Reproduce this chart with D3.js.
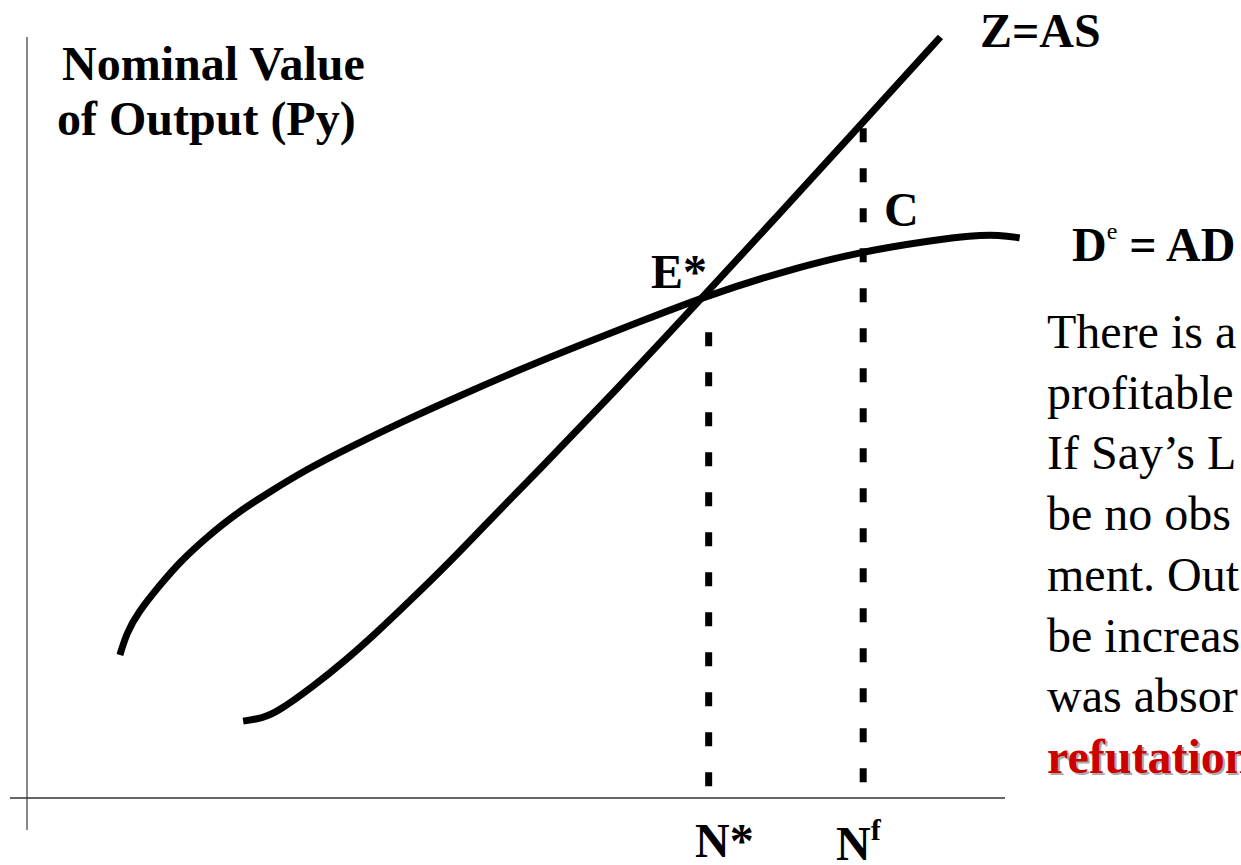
<!DOCTYPE html>
<html>
<head>
<meta charset="utf-8">
<script src="https://cdn.jsdelivr.net/npm/d3@7"></script>
<style>
  body { margin: 0; background: #fff; }
  svg { display: block; }
  text { font-family: "Liberation Serif", "Times New Roman", serif; }
</style>
</head>
<body>
<div id="chart"></div>
<script>
// aggregate demand (expected proceeds) curve
const adX = [9.5, 10.2, 11.3, 13.6, 15.6, 18.4, 21.5, 24.9, 28.6, 33.0, 38.1, 44.3, 50.4, 56.5, 62.7, 69.3, 77.0, 85.2, 92.8, 96.4, 99.5, 101.5];
const adY = [18.8, 21.7, 24.3, 28.0, 31.0, 34.3, 37.5, 40.3, 43.2, 46.1, 49.3, 52.9, 56.3, 59.5, 62.6, 65.9, 69.1, 71.8, 73.3, 73.9, 74.0, 73.6];

// aggregate supply curve
const asX = [22.1, 24.1, 25.6, 29.2, 32.5, 35.8, 38.9, 43.3, 47.3, 51.9, 60.0, 69.1, 85.5, 93.4];
const asY = [10.1, 10.5, 11.3, 14.6, 18.0, 21.8, 25.6, 31.1, 36.5, 42.5, 53.3, 65.8, 88.8, 100.0];

// employment levels marked on the x axis
const guideX = [69.7, 85.5];
const guideTop = [61.2, 88.0];

const width = 1241;
const height = 865;

const svg = d3.create('svg')
  .attr('width', width)
  .attr('height', height);

d3.select('#chart').append(() => svg.node());

const x = d3.scaleLinear().domain([0, 100]).range([27, 1005]);
const y = d3.scaleLinear().domain([0, 100]).range([798, 37]);

// axes
svg.append('line')
  .attr('x1', x(0)).attr('x2', x(0))
  .attr('y1', y(100)).attr('y2', 830)
  .attr('stroke', '#888').attr('stroke-width', 2);

svg.append('line')
  .attr('x1', 10).attr('x2', x(100))
  .attr('y1', y(0)).attr('y2', y(0))
  .attr('stroke', '#333').attr('stroke-width', 1.5);

// dotted guides
svg.selectAll('.guide')
  .data(guideX)
  .join('line')
  .attr('class', 'guide')
  .attr('x1', d => x(d)).attr('x2', d => x(d))
  .attr('y1', (d, i) => y(guideTop[i]))
  .attr('y2', y(0))
  .attr('stroke', '#000')
  .attr('stroke-width', 7)
  .attr('stroke-dasharray', '14,26');

const line = d3.line()
  .x(d => x(d[0]))
  .y(d => y(d[1]))
  .curve(d3.curveBasis);

svg.append('path')
  .datum(adX.map((v, i) => [v, adY[i]]))
  .attr('d', line)
  .attr('fill', 'none')
  .attr('stroke', '#000')
  .attr('stroke-width', 7);

svg.append('path')
  .datum(asX.map((v, i) => [v, asY[i]]))
  .attr('d', line)
  .attr('fill', 'none')
  .attr('stroke', '#000')
  .attr('stroke-width', 7);

// labels
const bold = (tx, ty, str) => svg.append('text')
  .attr('x', tx).attr('y', ty)
  .attr('font-size', 48)
  .attr('font-weight', 'bold')
  .text(str);

bold(62, 80, 'Nominal Value');
bold(57, 135, 'of Output (Py)');
bold(980, 47, 'Z=AS');
bold(651, 288, 'E*');
bold(884, 226, 'C');
bold(695, 857, 'N*');

const nf = bold(836, 860, 'N');
nf.append('tspan').attr('font-size', 30).attr('dy', -20).text('f');

const de = bold(1072, 261, 'D');
de.append('tspan').attr('font-size', 24).attr('font-weight', 'normal').attr('dy', -22).text('e');
de.append('tspan').attr('dy', 22).text(' = AD');

const lines = ['There is a', 'profitable', 'If Say\u2019s L', 'be no obs', 'ment. Out', 'be increas', 'was absor'];
svg.selectAll('.body')
  .data(lines)
  .join('text')
  .attr('class', 'body')
  .attr('x', 1047)
  .attr('y', (d, i) => 348 + i * 60.7)
  .attr('font-size', 48)
  .text(d => d);

svg.append('text')
  .attr('x', 1049).attr('y', 775)
  .attr('font-size', 48)
  .attr('font-weight', 'bold')
  .attr('fill', '#aaa')
  .text('refutation');

svg.append('text')
  .attr('x', 1047).attr('y', 773)
  .attr('font-size', 48)
  .attr('font-weight', 'bold')
  .attr('fill', '#cc0000')
  .text('refutation');
</script>
</body>
</html>
